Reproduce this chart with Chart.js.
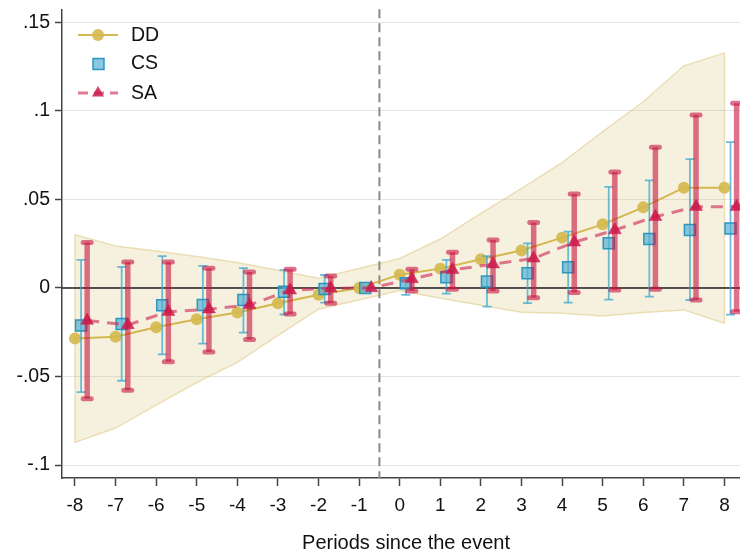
<!DOCTYPE html>
<html>
<head>
<meta charset="utf-8">
<script src="https://cdn.jsdelivr.net/npm/chart.js@4/dist/chart.umd.min.js"></script>
<style>
  html, body { margin: 0; padding: 0; background: #fff; overflow: hidden; }
  #wrap { position: relative; width: 760px; height: 556px; }
</style>
</head>
<body>
<div id="wrap"><canvas id="c"></canvas></div>
<script>
// Event-study estimates by period relative to the event
const periods = [-8, -7, -6, -5, -4, -3, -2, -1, 0, 1, 2, 3, 4, 5, 6, 7, 8];
const xTickLabels = ['-8', '-7', '-6', '-5', '-4', '-3', '-2', '-1', '0', '1', '2', '3', '4', '5', '6', '7', '8'];
const yTickValues = [-0.1, -0.05, 0, 0.05, 0.1, 0.15];
const yTickLabels = ['-.1', '-.05', '0', '.05', '.1', '.15'];

// DD: point estimates and confidence band (reference period -1 has no band)
const ddCoef = [-0.0286, -0.0275, -0.0222, -0.0177, -0.0139, -0.0086, -0.0039, 0, 0.0075, 0.0109, 0.0162, 0.0211, 0.0284, 0.0359, 0.0455, 0.0566, 0.0566];
const bandPeriods = [-8, -7, -6, -5, -4, -3, -2, 0, 1, 2, 3, 4, 5, 6, 7, 8];
const ddUpper = [0.0301, 0.0237, 0.0209, 0.0178, 0.0144, 0.0100, 0.0055, 0.0166, 0.0276, 0.0421, 0.0562, 0.0707, 0.0882, 0.1051, 0.1254, 0.1327];
const ddLower = [-0.0872, -0.0791, -0.0662, -0.0534, -0.0420, -0.0268, -0.0120, -0.0015, -0.0058, -0.0098, -0.0137, -0.0143, -0.0158, -0.0139, -0.0124, -0.0199];

// CS: point estimates and interval bounds
const csCoef  = [-0.0212, -0.0203, -0.0098, -0.0096, -0.0068, -0.0022, -0.0006, 0, 0.0026, 0.0060, 0.0036, 0.0083, 0.0117, 0.0252, 0.0276, 0.0327, 0.0335];
const csLower = [-0.0588, -0.0524, -0.0375, -0.0314, -0.0252, -0.0150, -0.0083, 0, -0.0039, -0.0032, -0.0105, -0.0086, -0.0083, -0.0066, -0.0049, -0.0068, -0.0151];
const csUpper = [0.0158, 0.0119, 0.0180, 0.0125, 0.0112, 0.0102, 0.0073, 0, 0.0055, 0.0158, 0.0180, 0.0252, 0.0318, 0.0570, 0.0607, 0.0727, 0.0823];

// SA: point estimates and interval bounds
const saCoef  = [-0.0184, -0.0209, -0.0134, -0.0120, -0.0096, -0.0013, -0.0002, 0, 0.0051, 0.0102, 0.0134, 0.0167, 0.0258, 0.0327, 0.0402, 0.0459, 0.0459];
const saLower = [-0.0626, -0.0577, -0.0417, -0.0361, -0.0291, -0.0147, -0.0086, 0, -0.0017, -0.0007, -0.0017, -0.0055, -0.0026, -0.0011, -0.0007, -0.0068, -0.0134];
const saUpper = [0.0256, 0.0146, 0.0147, 0.0111, 0.0090, 0.0105, 0.0068, 0, 0.0105, 0.0201, 0.0271, 0.0370, 0.0530, 0.0655, 0.0794, 0.0976, 0.1042];

// Horizontal dodge so the three estimators do not overlap
const CS_SHIFT = 0.15;
const SA_SHIFT = 0.30;
const EVENT_LINE = -0.5;

const FONT = '"Liberation Sans", Arial, Helvetica, sans-serif';

const col = {
  band: 'rgba(215,190,110,0.22)',
  bandEdge: 'rgba(215,190,110,0.45)',
  ddLine: 'rgba(208,176,62,0.9)',
  ddPoint: 'rgba(214,186,80,0.92)',
  csPoint: 'rgba(80,175,212,0.68)',
  csEdge: 'rgba(38,145,190,0.95)',
  csBar: 'rgba(60,168,208,0.75)',
  saLine: 'rgba(205,40,85,0.62)',
  saPoint: 'rgba(205,25,75,0.85)',
  saBar: 'rgba(200,20,65,0.6)'
};

const pts = (xs, ys, shift) => xs.map((p, i) => ({ x: p + shift, y: ys[i] }));

function drawIntervals(chart, shift, lo, hi, barW, capW, capHalf, color, roundCap) {
  const { ctx, chartArea, scales: { x, y } } = chart;
  ctx.save();
  ctx.beginPath();
  ctx.rect(chartArea.left, chartArea.top, chartArea.right - chartArea.left, chartArea.bottom - chartArea.top);
  ctx.clip();
  ctx.strokeStyle = color;
  periods.forEach((p, i) => {
    if (lo[i] === hi[i]) return;
    const px = x.getPixelForValue(p + shift);
    const pl = y.getPixelForValue(lo[i]);
    const ph = y.getPixelForValue(hi[i]);
    ctx.lineCap = 'butt';
    ctx.lineWidth = barW;
    ctx.beginPath();
    ctx.moveTo(px, pl);
    ctx.lineTo(px, ph);
    ctx.stroke();
    ctx.lineCap = roundCap ? 'round' : 'butt';
    ctx.lineWidth = capW;
    [pl, ph].forEach(py => {
      ctx.beginPath();
      ctx.moveTo(px - capHalf, py);
      ctx.lineTo(px + capHalf, py);
      ctx.stroke();
    });
  });
  ctx.restore();
}

const layers = {
  id: 'layers',
  afterDatasetDraw(chart, args) {
    const { ctx, chartArea, scales: { x, y } } = chart;
    if (args.index === 0) {
      ctx.save();
      // closing edges of the DD band at both ends
      ctx.strokeStyle = col.bandEdge;
      ctx.lineWidth = 1.5;
      const last = bandPeriods.length - 1;
      [[bandPeriods[0], ddLower[0], ddUpper[0]], [bandPeriods[last], ddLower[last], ddUpper[last]]].forEach(([p, lo, hi]) => {
        const px = x.getPixelForValue(p);
        ctx.beginPath();
        ctx.moveTo(px, y.getPixelForValue(lo));
        ctx.lineTo(px, y.getPixelForValue(hi));
        ctx.stroke();
      });
      // zero reference line and event marker
      const y0 = y.getPixelForValue(0);
      ctx.strokeStyle = '#1e1e1e';
      ctx.lineWidth = 1.5;
      ctx.beginPath();
      ctx.moveTo(chartArea.left, y0);
      ctx.lineTo(chartArea.right, y0);
      ctx.stroke();
      const xe = x.getPixelForValue(EVENT_LINE);
      ctx.strokeStyle = '#8a8a8a';
      ctx.lineWidth = 2;
      ctx.setLineDash([9, 5]);
      ctx.beginPath();
      ctx.moveTo(xe, chartArea.top);
      ctx.lineTo(xe, chartArea.bottom);
      ctx.stroke();
      ctx.restore();
    } else if (args.index === 2) {
      drawIntervals(chart, CS_SHIFT, csLower, csUpper, 1.8, 1.8, 4.5, col.csBar, false);
    } else if (args.index === 3) {
      drawIntervals(chart, SA_SHIFT, saLower, saUpper, 5.5, 5, 4, col.saBar, true);
    }
  },
  afterDraw(chart) {
    const { ctx } = chart;
    ctx.save();
    // DD key
    ctx.strokeStyle = col.ddLine;
    ctx.lineWidth = 2;
    ctx.beginPath(); ctx.moveTo(78, 35); ctx.lineTo(118, 35); ctx.stroke();
    ctx.fillStyle = col.ddPoint;
    ctx.beginPath(); ctx.arc(98, 35, 6, 0, Math.PI * 2); ctx.fill();
    // CS key
    ctx.fillStyle = col.csPoint;
    ctx.strokeStyle = col.csEdge;
    ctx.lineWidth = 1.5;
    ctx.beginPath(); ctx.rect(93, 58.5, 11, 11); ctx.fill(); ctx.stroke();
    // SA key
    ctx.strokeStyle = col.saLine;
    ctx.lineWidth = 3;
    ctx.setLineDash([10, 6]);
    ctx.beginPath(); ctx.moveTo(78, 93); ctx.lineTo(118, 93); ctx.stroke();
    ctx.setLineDash([]);
    ctx.fillStyle = col.saPoint;
    const r = 7;
    ctx.beginPath();
    ctx.moveTo(98, 93 - r);
    ctx.lineTo(98 + r * Math.sin(Math.PI * 2 / 3), 93 + r / 2);
    ctx.lineTo(98 - r * Math.sin(Math.PI * 2 / 3), 93 + r / 2);
    ctx.closePath();
    ctx.fill();
    // labels
    ctx.fillStyle = '#111';
    ctx.font = '19.5px ' + FONT;
    ctx.textBaseline = 'middle';
    ctx.textAlign = 'left';
    ctx.fillText('DD', 131, 36);
    ctx.fillText('CS', 131, 64);
    ctx.fillText('SA', 131, 93.5);
    ctx.restore();
  }
};

// Fixed axis boxes: no extra room reserved for end-of-axis labels
const fixBox = (size, horizontal) => s => {
  if (horizontal) s.height = size; else s.width = size;
  s.paddingTop = 0; s.paddingBottom = 0; s.paddingLeft = 0; s.paddingRight = 0;
};

new Chart(document.getElementById('c'), {
  type: 'line',
  data: {
    datasets: [
      { // upper edge of DD band, filled down to the lower edge
        data: pts(bandPeriods, ddUpper, 0),
        borderColor: col.bandEdge, borderWidth: 1.5, backgroundColor: col.band,
        pointRadius: 0, fill: '+1', order: 3
      },
      {
        data: pts(bandPeriods, ddLower, 0),
        borderColor: col.bandEdge, borderWidth: 1.5, pointRadius: 0, fill: false, order: 4
      },
      {
        label: 'DD', data: pts(periods, ddCoef, 0),
        borderColor: col.ddLine, borderWidth: 2, fill: false,
        pointStyle: 'circle', pointRadius: 6, pointBackgroundColor: col.ddPoint, pointBorderWidth: 0,
        order: 2
      },
      {
        label: 'CS', data: pts(periods, csCoef, CS_SHIFT), showLine: false,
        pointStyle: 'rect', pointRadius: 7.8, pointBackgroundColor: col.csPoint,
        pointBorderColor: col.csEdge, pointBorderWidth: 1.5, order: 1
      },
      {
        label: 'SA', data: pts(periods, saCoef, SA_SHIFT),
        borderColor: col.saLine, borderWidth: 3, borderDash: [12, 8], fill: false,
        pointStyle: 'triangle', pointRadius: 7.5, pointBackgroundColor: col.saPoint,
        pointBorderColor: col.saPoint, pointBorderWidth: 0.5, order: 0
      }
    ]
  },
  options: {
    responsive: true,
    maintainAspectRatio: false,
    animation: false,
    events: [],
    layout: { padding: { top: 9, right: 10, left: 0, bottom: 0 } },
    plugins: { legend: { display: false }, tooltip: { enabled: false } },
    scales: {
      x: {
        type: 'linear',
        min: -8.32, max: 8.63,
        afterBuildTicks: s => { s.ticks = periods.map(v => ({ value: v })); },
        afterFit: fixBox(78, true),
        grid: { drawOnChartArea: false, drawTicks: true, tickLength: 8, tickColor: '#444', tickWidth: 1.5 },
        border: { display: true, color: '#444', width: 1.5 },
        ticks: {
          autoSkip: false, maxRotation: 0, padding: 8, color: '#111',
          font: { family: FONT, size: 19 },
          callback: (v, i) => xTickLabels[i]
        },
        title: {
          display: true, text: 'Periods since the event', color: '#111',
          font: { family: FONT, size: 20 }, padding: { top: 0, bottom: 1 }
        }
      },
      y: {
        type: 'linear',
        min: -0.1073, max: 0.1573,
        afterBuildTicks: s => { s.ticks = yTickValues.map(v => ({ value: v })); },
        afterFit: fixBox(62, false),
        grid: { color: '#e4e4e4', lineWidth: 1, drawTicks: true, tickLength: 7, tickColor: '#444', tickWidth: 1.5 },
        border: { display: true, color: '#444', width: 1.5 },
        ticks: {
          padding: 5, color: '#111',
          font: { family: FONT, size: 19.5 },
          callback: (v, i) => yTickLabels[i]
        }
      }
    }
  },
  plugins: [layers]
});
</script>
</body>
</html>
